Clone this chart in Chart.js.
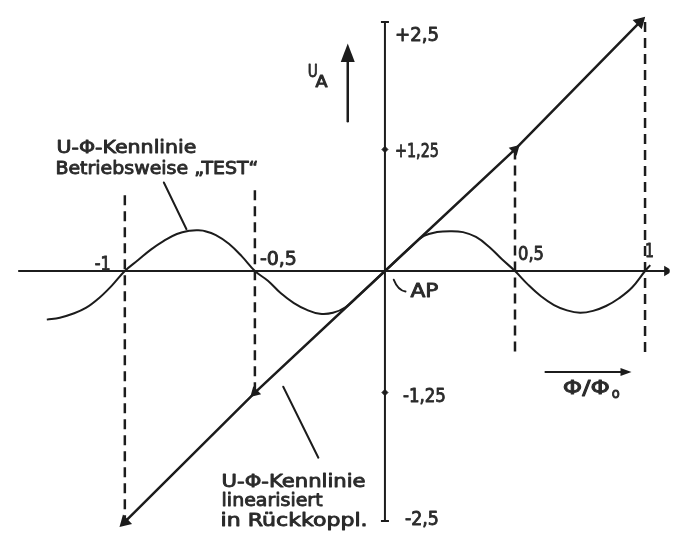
<!DOCTYPE html>
<html>
<head>
<meta charset="utf-8">
<script src="https://cdn.jsdelivr.net/npm/chart.js@4"></script>
<style>
  html, body { margin: 0; padding: 0; background: #fff; }
  #wrap { width: 677px; height: 542px; }
</style>
</head>
<body>
<div id="wrap"><canvas id="c" width="677" height="542"></canvas></div>
<script>
// U-Φ characteristic, operating mode "TEST" (Φ/Φ0 → U_A)
const phiTest = [-1.30, -1.25, -1.20, -1.15, -1.10, -1.05, -1.00, -0.95, -0.90, -0.85, -0.80, -0.75, -0.72, -0.70,
  -0.65, -0.60, -0.55, -0.50, -0.45, -0.40, -0.35, -0.30, -0.25, -0.20, -0.15, -0.10, -0.05, 0.00,
  0.05, 0.10, 0.15, 0.20, 0.25, 0.30, 0.35, 0.40, 0.45, 0.50, 0.55, 0.60, 0.65, 0.70, 0.75, 0.80,
  0.85, 0.90, 0.95, 1.00, 1.02];
const uTest = [-0.50, -0.48, -0.44, -0.38, -0.28, -0.15, 0.00, 0.11, 0.22, 0.31, 0.38, 0.415, 0.42, 0.415,
  0.37, 0.28, 0.15, 0.00, -0.10, -0.23, -0.33, -0.40, -0.44, -0.43, -0.37, -0.25, -0.125, 0.00,
  0.125, 0.25, 0.36, 0.40, 0.41, 0.40, 0.35, 0.25, 0.12, 0.00, -0.14, -0.26, -0.35, -0.405, -0.43, -0.41,
  -0.36, -0.28, -0.17, 0.00, 0.06];

// linearised characteristic with feedback
const phiLinear = [-1.00, -0.50, 0.00, 0.50, 0.98];
const uLinear = [-2.58, -1.25, 0.00, 1.25, 2.56];

// dashed projection lines
const dashPhi = [-1, -0.5, 0.5, 1];
const dashTop = [0.78, 0.83, 1.25, 2.56];
const dashBottom = [-2.58, -1.25, -0.86, -0.84];

// tick labels
const xTickValues = [-1, -0.5, 0.5, 1];
const xTickLabels = ['-1', '-0,5', '0,5', '1'];
const yTickValues = [2.5, 1.25, -1.25, -2.5];
const yTickLabels = ['+2,5', '+1,25', '-1,25', '-2,5'];
const yTickMarks = [1.25, -1.25];

// extent of the drawn axes
const axisXExtent = [-1.41, 1.085];
const axisYExtent = [-2.57, 2.56];

const INK = '#1c1c1c';
const FONT = '"DejaVu Sans", sans-serif';

const pts = (xs, ys) => xs.map((x, i) => ({ x, y: ys[i] }));

const datasets = [];

dashPhi.forEach((p, i) => {
  datasets.push({
    data: [{ x: p, y: dashTop[i] }, { x: p, y: dashBottom[i] }],
    showLine: true, borderColor: INK, borderWidth: 2.5, borderDash: [10, 6],
    pointRadius: 0
  });
});

// horizontal axis with arrow
datasets.push({
  data: [{ x: axisXExtent[0], y: 0 }, { x: axisXExtent[1], y: 0 }],
  showLine: true, borderColor: INK, borderWidth: 2,
  pointStyle: 'triangle', pointRadius: [0, 4], pointRotation: 90,
  pointBackgroundColor: INK, pointBorderColor: INK
});

// vertical axis with end bars
datasets.push({
  data: [{ x: 0, y: axisYExtent[0] }, { x: 0, y: axisYExtent[1] }],
  showLine: true, borderColor: INK, borderWidth: 2,
  pointStyle: 'line', pointRadius: 4, pointBorderWidth: 2,
  pointBorderColor: INK
});

// tick marks on the vertical axis
datasets.push({
  data: yTickMarks.map(v => ({ x: 0, y: v })),
  showLine: false, pointStyle: 'rectRot', pointRadius: 3,
  pointBackgroundColor: INK, pointBorderColor: INK, pointBorderWidth: 1
});

// characteristic "TEST"
datasets.push({
  data: pts(phiTest, uTest),
  showLine: true, borderColor: INK, borderWidth: 2,
  tension: 0.4, pointRadius: 0
});

// linearised characteristic
datasets.push({
  data: pts(phiLinear, uLinear),
  showLine: true, borderColor: INK, borderWidth: 2.5,
  pointStyle: 'triangle', pointRadius: [5, 4, 0, 4, 5],
  pointRotation: [225.6, 225.6, 0, 45.6, 45.6],
  pointBackgroundColor: INK, pointBorderColor: INK
});

// lettering: condensed to a given width and slightly thickened
function fitText(ctx, str, x, y, size, width) {
  ctx.save();
  ctx.font = size + 'px ' + FONT;
  ctx.textBaseline = 'middle';
  ctx.textAlign = 'left';
  const w = ctx.measureText(str).width;
  ctx.translate(x, y);
  ctx.scale(width / w, 1);
  ctx.lineWidth = 0.9;
  ctx.lineJoin = 'round';
  ctx.strokeStyle = '#2a2a2a';
  ctx.strokeText(str, 0, 0);
  ctx.fillText(str, 0, 0);
  ctx.restore();
}

const decorations = {
  id: 'decorations',
  afterDatasetsDraw(chart) {
    const ctx = chart.ctx;
    const sx = chart.scales.x, sy = chart.scales.y;
    const px = v => sx.getPixelForValue(v);
    const py = v => sy.getPixelForValue(v);
    ctx.save();
    ctx.fillStyle = '#2a2a2a';
    ctx.strokeStyle = INK;

    // x tick labels
    const xOff = [[-30, -6, 16], [5, -11, 37], [3, -16, 26], [0, -19, 9]];
    xTickValues.forEach((v, i) => {
      fitText(ctx, xTickLabels[i], px(v) + xOff[i][0], py(0) + xOff[i][1], 19, xOff[i][2]);
    });
    // y tick labels
    const yOff = [[10, 8, 44], [10, 3, 44], [18, 5, 43], [20, 6, 34]];
    yTickValues.forEach((v, i) => {
      fitText(ctx, yTickLabels[i], px(0) + yOff[i][0], py(v) + yOff[i][1], 19, yOff[i][2]);
    });

    // annotations
    fitText(ctx, 'U-Φ-Kennlinie', px(-1.263), py(1.26), 18, 140);
    fitText(ctx, 'Betriebsweise „TEST“', px(-1.267), py(1.05), 18, 203);
    fitText(ctx, 'U-Φ-Kennlinie', px(-0.628), py(-2.17), 18, 144);
    fitText(ctx, 'linearisiert', px(-0.628), py(-2.37), 18, 101);
    fitText(ctx, 'in Rückkoppl.', px(-0.632), py(-2.57), 18, 147);
    fitText(ctx, 'AP', px(0.098), py(-0.21), 20, 28);
    fitText(ctx, 'Φ/Φ', px(0.684), py(-1.21), 20, 47);
    fitText(ctx, 'o', px(0.872), py(-1.27), 14, 8);
    fitText(ctx, 'U', px(-0.297), py(2.04), 18, 10);
    fitText(ctx, 'A', px(-0.267), py(1.93), 15, 12);

    // leader lines
    ctx.lineWidth = 2;
    ctx.lineCap = 'round';
    const seg = (a, b) => {
      ctx.beginPath();
      ctx.moveTo(px(a[0]), py(a[1]));
      ctx.lineTo(px(b[0]), py(b[1]));
      ctx.stroke();
    };
    seg([-0.85, 0.91], [-0.763, 0.43]);
    seg([-0.391, -1.19], [-0.256, -1.92]);
    ctx.beginPath();
    ctx.moveTo(px(0.034), py(-0.09));
    ctx.quadraticCurveTo(px(0.05), py(-0.2), px(0.079), py(-0.21));
    ctx.stroke();

    // U_A arrow
    ctx.lineWidth = 2.5;
    seg([-0.143, 1.54], [-0.143, 2.17]);
    ctx.beginPath();
    ctx.moveTo(px(-0.143), py(2.34));
    ctx.lineTo(px(-0.143) - 7, py(2.15));
    ctx.lineTo(px(-0.143) + 7, py(2.15));
    ctx.closePath();
    ctx.fillStyle = INK;
    ctx.fill();

    // Φ/Φ0 arrow
    ctx.lineWidth = 2;
    seg([0.617, -1.04], [0.935, -1.04]);
    ctx.beginPath();
    ctx.moveTo(px(0.948), py(-1.04));
    ctx.lineTo(px(0.948) - 11, py(-1.04) - 4);
    ctx.lineTo(px(0.948) - 11, py(-1.04) + 4);
    ctx.closePath();
    ctx.fill();

    ctx.restore();
  }
};

new Chart(document.getElementById('c'), {
  type: 'scatter',
  data: { datasets },
  options: {
    responsive: false,
    animation: false,
    devicePixelRatio: 1,
    layout: { padding: 0 },
    plugins: { legend: { display: false }, tooltip: { enabled: false } },
    scales: {
      x: { type: 'linear', min: -1.4511, max: 1.0940, display: false },
      y: { type: 'linear', min: -2.71, max: 2.71, display: false }
    }
  },
  plugins: [decorations]
});
</script>
</body>
</html>
